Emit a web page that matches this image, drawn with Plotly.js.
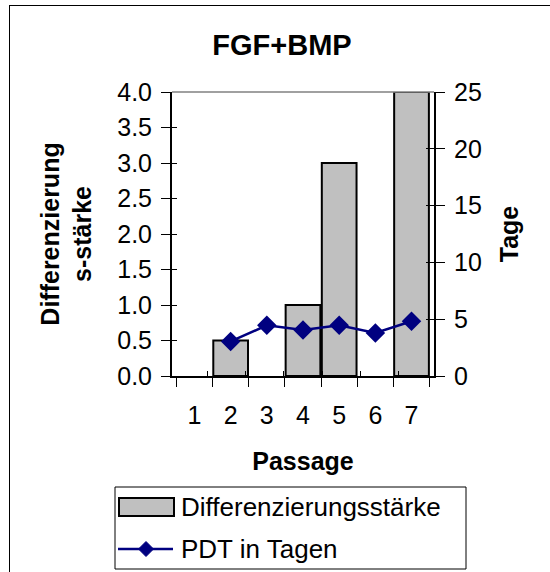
<!DOCTYPE html>
<html>
<head>
<meta charset="utf-8">
<script src="https://cdn.plot.ly/plotly-3.0.1.min.js"></script>
<style>
  html, body { margin: 0; padding: 0; background: #fff; overflow: hidden; }
  #wrap { position: relative; width: 550px; height: 572px; }
  #frame { position: absolute; left: 9px; top: 5px; width: 600px; height: 600px; border: 1px solid #000; box-sizing: border-box; pointer-events: none; }
  #chart { position: absolute; left: 0; top: 0; width: 550px; height: 572px; }
</style>
</head>
<body>
<div id="wrap">
  <div id="chart"></div>
  <div id="frame"></div>
</div>
<script>
// Data
const passage = ['1', '2', '3', '4', '5', '6', '7'];
const differenzierungsstaerke = [null, 0.5, null, 1.0, 3.0, null, 4.0];
const pdtInTagen = [null, 3.04, 4.46, 4.05, 4.46, 3.78, 4.82];
const leftTicks = [0, 0.5, 1, 1.5, 2, 2.5, 3, 3.5, 4];
const rightTicks = [0, 5, 10, 15, 20, 25];
const seriesNames = ['Differenzierungsstärke', 'PDT in Tagen'];

const FONT = 'Liberation Sans, Arial, sans-serif';
const BAR_FILL = '#c0c0c0';
const LINE_COL = '#000080';

// plot area in pixels (layout only)
const PL = 172, PR = 434, PT = 92, PB = 376;
const px = v => (v - PL) / (PR - PL);
const py = v => (PB - v) / (PB - PT);

const emptyY = passage.map(() => null);

const traces = [
  {
    type: 'bar',
    name: seriesNames[0],
    x: passage,
    y: differenzierungsstaerke,
    marker: { color: BAR_FILL, line: { color: '#000', width: 2 } },
    yaxis: 'y'
  },
  {
    type: 'scatter',
    mode: 'lines+markers',
    name: seriesNames[1],
    x: passage,
    y: pdtInTagen,
    yaxis: 'y2',
    line: { color: LINE_COL, width: 2.5 },
    marker: { symbol: 'diamond', size: 15, color: LINE_COL },
    connectgaps: true
  },
  // carriers for the inner half of the crossing tick marks (no visible data)
  { type: 'scatter', mode: 'markers', x: passage, y: emptyY, xaxis: 'x2', yaxis: 'y3', showlegend: false, hoverinfo: 'skip' },
  { type: 'scatter', mode: 'markers', x: passage, y: emptyY, xaxis: 'x', yaxis: 'y4', showlegend: false, hoverinfo: 'skip' }
];

const tickFont = { family: FONT, size: 25, color: '#000' };
const titleFont = { family: FONT, size: 25, color: '#000' };

const layout = {
  width: 550,
  height: 572,
  margin: { l: PL, r: 550 - PR, t: PT, b: 572 - PB },
  paper_bgcolor: 'rgba(0,0,0,0)',
  plot_bgcolor: '#fff',
  showlegend: false,
  bargap: 0.04,
  font: { family: FONT, color: '#000', size: 25 },
  title: {
    text: '<b>FGF+BMP</b>',
    font: { family: FONT, size: 29, color: '#000' },
    x: 282 / 550, xanchor: 'center', xref: 'container',
    y: 1 - 45 / 572, yanchor: 'middle', yref: 'container'
  },
  xaxis: {
    type: 'category',
    categoryarray: passage,
    tickson: 'boundaries',
    ticks: 'outside',
    ticklen: 9,
    tickcolor: '#000',
    tickwidth: 1,
    showline: true,
    linecolor: '#000',
    linewidth: 2,
    showgrid: false,
    tickfont: tickFont,
    ticklabelstandoff: 16,
    title: { text: '<b>Passage</b>', font: titleFont, standoff: 24 },
    fixedrange: true
  },
  xaxis2: {
    type: 'category',
    categoryarray: passage,
    overlaying: 'x',
    anchor: 'y3',
    side: 'bottom',
    tickson: 'boundaries',
    ticks: 'inside',
    ticklen: 5,
    tickcolor: '#000',
    showticklabels: false,
    showline: false,
    showgrid: false
  },
  yaxis: {
    range: [0, 4],
    tickvals: leftTicks,
    tickformat: '.1f',
    ticks: 'outside',
    ticklen: 9,
    tickcolor: '#000',
    showline: true,
    linecolor: '#000',
    linewidth: 2,
    showgrid: false,
    zeroline: false,
    tickfont: tickFont,
    ticklabelstandoff: 4,
    title: { text: '<b>Differenzierung<br>s-stärke</b>', font: titleFont, standoff: 18 }
  },
  yaxis2: {
    overlaying: 'y',
    side: 'right',
    range: [0, 25],
    tickvals: rightTicks,
    ticks: 'outside',
    ticklen: 9,
    tickcolor: '#000',
    showline: true,
    linecolor: '#000',
    linewidth: 2,
    showgrid: false,
    zeroline: false,
    tickfont: tickFont,
    ticklabelstandoff: 4,
    title: { text: '<b>Tage</b>', font: titleFont, standoff: 20 }
  },
  yaxis3: {
    overlaying: 'y',
    anchor: 'x2',
    side: 'left',
    range: [0, 4],
    tickvals: leftTicks,
    ticks: 'inside',
    ticklen: 5,
    tickcolor: '#000',
    showticklabels: false,
    showline: false,
    showgrid: false,
    zeroline: false
  },
  yaxis4: {
    overlaying: 'y',
    side: 'right',
    range: [0, 25],
    tickvals: rightTicks,
    ticks: 'inside',
    ticklen: 8,
    tickcolor: '#000',
    showticklabels: false,
    showline: false,
    showgrid: false,
    zeroline: false
  },
  shapes: [
    // top border of plot area
    { type: 'line', xref: 'paper', yref: 'paper', x0: 0, x1: 1, y0: 1, y1: 1, line: { color: '#808080', width: 1.5 } },
    // legend box
    { type: 'rect', xref: 'paper', yref: 'paper', x0: px(115), x1: px(466), y0: py(569), y1: py(487), line: { color: '#000', width: 1 }, fillcolor: '#fff' },
    // bar swatch
    { type: 'rect', xref: 'paper', yref: 'paper', x0: px(119), x1: px(174), y0: py(516), y1: py(498), line: { color: '#000', width: 2 }, fillcolor: BAR_FILL },
    // line swatch
    { type: 'line', xref: 'paper', yref: 'paper', x0: px(118), x1: px(173), y0: py(549), y1: py(549), line: { color: LINE_COL, width: 2.5 } },
    { type: 'path', xref: 'paper', yref: 'paper',
      path: 'M' + px(146) + ',' + py(541.5) + ' L' + px(153.5) + ',' + py(549) + ' L' + px(146) + ',' + py(556.5) + ' L' + px(138.5) + ',' + py(549) + ' Z',
      line: { color: LINE_COL, width: 1 }, fillcolor: LINE_COL }
  ],
  annotations: [
    { xref: 'paper', yref: 'paper', x: px(179), y: py(507), xanchor: 'left', yanchor: 'middle', showarrow: false, text: seriesNames[0], font: { family: FONT, size: 26, color: '#000' } },
    { xref: 'paper', yref: 'paper', x: px(179), y: py(549), xanchor: 'left', yanchor: 'middle', showarrow: false, text: seriesNames[1], font: { family: FONT, size: 26, color: '#000' } }
  ]
};

Plotly.newPlot('chart', traces, layout, { staticPlot: true, displayModeBar: false });
</script>
</body>
</html>
